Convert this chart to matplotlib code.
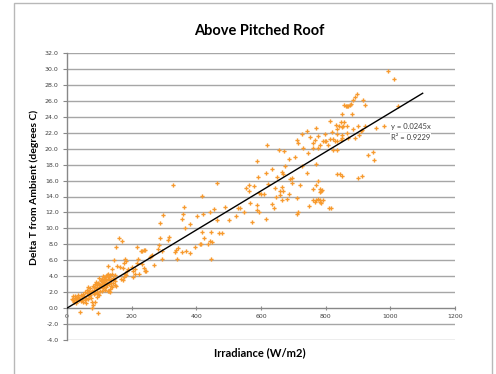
import matplotlib
matplotlib.use("Agg")
import matplotlib.pyplot as plt
import numpy as np
from matplotlib.patches import Rectangle

irradiance = [
    15, 19, 22, 25, 27, 30, 32, 35, 37, 40, 42, 45, 48, 51, 55, 58, 60, 61, 63, 66,
    68, 70, 72, 74, 76, 78, 80, 81, 83, 85, 86, 88, 90, 92, 92, 94, 95, 96, 98, 100,
    100, 102, 104, 106, 108, 110, 112, 114, 116, 118, 120, 122, 123, 125, 128, 128, 130, 131, 133, 134,
    135, 137, 139, 140, 142, 144, 148, 149, 150, 152, 154, 160, 163, 166, 170, 172, 174, 175, 176, 179,
    180, 182, 182, 186, 190, 201, 204, 205, 210, 211, 217, 218, 221, 223, 230, 237, 240, 243,
    53, 57, 65, 67, 73, 77, 82, 87, 89, 93, 97, 99, 103, 105, 107, 109, 111, 113, 115, 117,
    119, 121, 124, 126, 127, 129, 131, 132, 136, 138, 141, 145, 147, 28, 33, 38, 44, 47, 24, 20,
    231, 231, 239, 242, 257, 259, 262, 269, 280, 284, 287, 288, 293, 293, 298, 313, 315, 329, 334, 337,
    341, 343, 355, 355, 358, 362, 365, 367, 380, 380, 397, 401, 411, 413, 418, 418, 422, 425, 437, 441,
    442, 444, 445, 447, 456, 465, 465, 470, 479, 488, 502, 524, 530, 535, 548, 553, 564, 564, 565, 572,
    579,
    587, 587, 589, 590, 595, 595, 601, 608, 615, 616, 620, 623, 633, 634, 641, 643, 646, 649, 657, 659,
    659, 665, 666, 666, 669, 669, 672, 674, 681, 686, 688, 690, 695, 696, 705, 710, 710, 712, 715, 715,
    721, 726, 728, 729, 741, 743, 744, 747, 752, 760, 762, 762, 762, 767, 768, 770, 770, 770, 770, 776,
    776, 777, 777, 781, 781, 781, 783, 783, 786, 786, 789, 791, 793, 798, 799, 800, 807, 811, 813, 813,
    815,
    821, 822, 824, 828, 831, 834, 835, 835, 836, 836, 842, 844, 846, 848, 850, 850, 850, 852, 852, 855,
    858, 858, 863, 865, 865, 867, 870, 870, 875, 877, 880, 883, 886, 890, 892, 896, 900, 900, 904, 908,
    911, 911, 917, 923, 923, 932, 945, 950, 955, 981, 994, 1012, 1025,
]

delta_t = [
    1.2, 1.0, 0.8, 1.5, 1.1, 1.3, 0.9, 1.4, 1.0, -0.5, 1.6, 1.2, 0.8, 1.8, 1.0, 1.3, 0.7, 2.3, 1.9, 2.7,
    2.1, 1.6, 2.5, 2.0, 0.8, 0.0, 2.8, 0.4, 1.8, 2.3, 0.8, 3.0, 2.5, 1.4, 2.9, 2.0, -0.6, 3.2, 2.6, 1.6,
    3.0, 2.2, 3.4, 2.8, 3.6, 2.5, 3.3, 3.9, 3.0, 3.7, 2.6, 4.0, 3.2, 4.2, 4.3, 5.3, 2.1, 3.0, 2.4, 4.2,
    2.8, 3.5, 4.9, 2.6, 3.8, 6.0, 4.1, 3.4, 2.8, 7.7, 5.3, 8.8, 5.1, 3.6, 8.4, 5.0, 3.5, 3.9, 5.6, 4.3,
    6.1, 4.1, 5.9, 4.6, 4.9, 5.2, 4.6, 3.9, 4.9, 4.3, 7.7, 5.6, 6.1, 4.3, 7.2, 5.0, 7.3, 4.6,
    1.5, 2.0, 1.2, 1.5, 1.3, 2.2, 2.6, 1.9, 3.3, 2.4, 1.8, 3.8, 2.9, 3.5, 2.1, 3.0, 4.0, 2.7, 3.5, 2.3,
    3.1, 3.5, 2.9, 3.7, 2.2, 3.9, 3.6, 2.0, 3.2, 4.3, 3.1, 3.7, 2.9, 0.6, 1.7, 1.3, 0.9, 1.5, 1.3, 1.5,
    5.5, 7.2, 7.3, 4.7, 6.4, 6.5, 6.6, 5.4, 7.4, 7.9, 10.7, 8.8, 6.1, 7.2, 11.7, 8.5, 8.9, 15.5, 7.1, 7.3,
    6.1, 7.6, 7.0, 11.2, 11.8, 12.7, 10.0, 7.2, 6.9, 10.6, 7.7, 11.5, 8.0, 8.0, 14.1, 9.5, 11.8, 8.8, 8.0, 12.0,
    8.4, 6.2, 9.6, 8.3, 12.4, 15.7, 11.0, 9.4, 9.4, 12.7, 11.1, 11.5, 12.5, 12.5, 12.1, 15.1, 15.4, 14.7, 13.2, 10.8,
    15.3,
    12.9, 12.3, 18.5, 16.5, 14.4, 12.0, 14.3, 14.3, 11.2, 17.0, 20.4, 15.6, 17.5, 13.1, 12.5, 15.1, 13.9, 16.5, 19.8, 14.7,
    14.2, 15.2, 17.1, 13.5, 16.8, 14.7, 19.7, 17.8, 13.7, 14.3, 18.7, 16.2, 16.3, 15.7, 19.0, 21.1, 11.8, 13.8, 20.7, 12.1,
    15.4, 21.9, 17.8, 20.1, 22.2, 17.0, 19.4, 12.8, 21.5, 20.7, 20.1, 15.0, 13.6, 21.1, 13.3, 22.6, 18.1, 15.4, 13.6, 13.7,
    16.0, 21.6, 20.1, 14.9, 14.6, 13.3, 20.5, 13.6, 14.7, 13.2, 14.8, 13.6, 20.9, 21.8, 21.0, 20.9, 20.4, 12.6, 23.5, 21.2,
    12.5,
    22.1, 21.2, 19.8, 21.0, 23.0, 16.8, 22.5, 19.8, 21.9, 20.9, 22.9, 16.8, 21.1, 23.3, 22.7, 21.4, 16.6, 24.4, 21.7, 22.8,
    23.3, 25.5, 25.3, 22.8, 22.0, 25.4, 25.3, 21.4, 25.5, 25.6, 24.3, 22.5, 26.1, 21.4, 26.5, 26.8, 22.9, 16.3, 21.7, 22.2,
    22.3, 16.6, 26.1, 25.5, 22.9, 19.2, 19.6, 18.6, 22.6, 22.8, 29.7, 28.7, 25.3,
]

trend_slope = 0.0245
trend_r2 = 0.9229
trend_x = [0, 1100]
x_ticks = [0, 200, 400, 600, 800, 1000, 1200]
y_ticks = [-4, -2, 0, 2, 4, 6, 8, 10, 12, 14, 16, 18, 20, 22, 24, 26, 28, 30, 32]

fig = plt.figure(figsize=(4.96, 3.74), dpi=100)
fig.patch.set_facecolor("white")
fig.patches.append(Rectangle((14 / 496, -0.05), (492 - 14) / 496, 1.05 - 3 / 374,
                             transform=fig.transFigure, fill=False,
                             edgecolor="#b8b8b8", linewidth=1.0))

ax = fig.add_axes([67 / 496, 1 - 340 / 374, (455 - 67) / 496, (340 - 53) / 374])
ax.set_xlim(0, 1200)
ax.set_ylim(-4, 32)
ax.set_yticks(y_ticks)
ax.set_yticklabels([f"{v:.1f}" for v in y_ticks])
ax.set_xticks(x_ticks)
ax.set_xticklabels([str(v) for v in x_ticks])
ax.yaxis.grid(True, color="#a6a6a6", linewidth=1.0)
ax.set_axisbelow(True)
for s in ["top", "right", "bottom"]:
    ax.spines[s].set_visible(False)
ax.spines["left"].set_color("#888888")
ax.spines["left"].set_linewidth(1.0)
ax.spines["bottom"].set_visible(True)
ax.spines["bottom"].set_position(("data", 0))
ax.spines["bottom"].set_color("#888888")
ax.tick_params(axis="y", length=3, width=0.8, color="#888888", labelsize=4.5,
               labelcolor="#404040", pad=3)
ax.tick_params(axis="x", length=3, width=0.8, color="#888888", labelsize=4.5,
               labelcolor="#404040", pad=3, direction="inout")

ax.plot(irradiance, delta_t, linestyle="none", marker="P", markersize=3.0,
        color="#f79a2e", markeredgewidth=0, zorder=3)
ax.plot(trend_x, [trend_slope * v for v in trend_x], color="black", linewidth=1.0, zorder=4)

ax.text(1062, 22.8, f"y = {trend_slope}x", fontsize=5.5, color="#404040",
        ha="center", va="center", family="Lato",
        bbox=dict(facecolor="white", edgecolor="none", pad=0.5), zorder=5)
ax.text(1062, 21.4, f"R² = {trend_r2}", fontsize=5.5, color="#404040",
        ha="center", va="center", family="Lato",
        bbox=dict(facecolor="white", edgecolor="none", pad=0.5), zorder=5)

fig.text(259 / 496, 1 - 31 / 374, "Above Pitched Roof", fontsize=10.5, fontweight="bold",
         family="Lato", ha="center", va="center")
fig.text(260 / 496, 1 - 353 / 374, "Irradiance (W/m2)", fontsize=8, fontweight="bold",
         family="Lato", ha="center", va="center")
fig.text(34 / 496, 1 - 187 / 374, "Delta T from Ambient (degrees C)", fontsize=7.5,
         fontweight="bold", family="Lato", ha="center", va="center", rotation=90)

fig.savefig("out.png", dpi=100)
